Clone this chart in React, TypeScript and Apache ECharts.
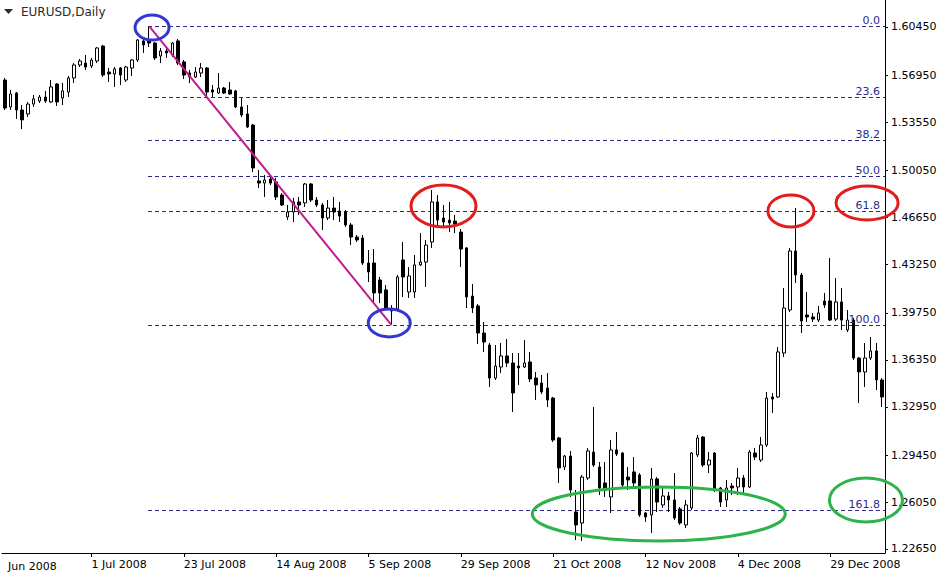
import { useEffect, useRef } from 'react';
import * as echarts from 'echarts';

const FONT = '"DejaVu Sans", Verdana, sans-serif';
const FIB_COLOR = '#2b2b86';
const TREND_COLOR = '#c41a8e';
const BLUE = '#3535d0';
const RED = '#e21d1d';
const GREEN = '#2db34a';
const GRID = { left: 2, right: 58, top: 0, bottom: 28 };

const TITLE = 'EURUSD,Daily';
const FIRST_LABEL = 'Jun 2008';
const MONTHS = ['Jan', 'Feb', 'Mar', 'Apr', 'May', 'Jun', 'Jul', 'Aug', 'Sep', 'Oct', 'Nov', 'Dec'];
const FIRST_DAY = '2008-06-10';
const BAR_COUNT = 153;
const CLOSED_DAYS = ['25 Dec 2008', '1 Jan 2009'];

function tradingDays(): string[] {
  const out: string[] = [];
  const d = new Date(FIRST_DAY + 'T00:00:00Z');
  while (out.length < BAR_COUNT) {
    const wd = d.getUTCDay();
    const label = `${d.getUTCDate()} ${MONTHS[d.getUTCMonth()]} ${d.getUTCFullYear()}`;
    if (wd !== 0 && wd !== 6 && !CLOSED_DAYS.includes(label)) out.push(label);
    d.setUTCDate(d.getUTCDate() + 1);
  }
  return out;
}
const categories = tradingDays();

const xTickLabels = ['1 Jul 2008', '23 Jul 2008', '14 Aug 2008', '5 Sep 2008', '29 Sep 2008', '21 Oct 2008', '12 Nov 2008', '4 Dec 2008', '29 Dec 2008'];
const yTickValues = [1.2265, 1.2605, 1.2945, 1.3295, 1.3635, 1.3975, 1.4325, 1.4665, 1.5005, 1.5355, 1.5695, 1.6045];
const Y_MIN = 1.2236;
const Y_MAX = 1.62405;

// [open, close, low, high]
const juneBars = [
  [1.5661, 1.5458, 1.5444, 1.5676], [1.5466, 1.5560, 1.5444, 1.5589], [1.5567, 1.5444, 1.5379, 1.5574],
  [1.5444, 1.5372, 1.5306, 1.5480], [1.5415, 1.5487, 1.5393, 1.5502], [1.5487, 1.5524, 1.5466, 1.5553],
  [1.5509, 1.5538, 1.5495, 1.5553], [1.5538, 1.5509, 1.5495, 1.5582], [1.5502, 1.5611, 1.5495, 1.5661],
  [1.5632, 1.5502, 1.5473, 1.5639], [1.5531, 1.5582, 1.5480, 1.5639], [1.5574, 1.5676, 1.5538, 1.5690],
  [1.5676, 1.5770, 1.5639, 1.5784], [1.5770, 1.5799, 1.5755, 1.5813], [1.5784, 1.5755, 1.5734, 1.5842],
];
const julyBars = [
  [1.5763, 1.5806, 1.5748, 1.5821], [1.5799, 1.5893, 1.5784, 1.5900], [1.5907, 1.5697, 1.5683, 1.5915],
  [1.5719, 1.5705, 1.5647, 1.5748], [1.5705, 1.5741, 1.5611, 1.5755], [1.5748, 1.5697, 1.5625, 1.5755],
  [1.5661, 1.5755, 1.5647, 1.5763], [1.5748, 1.5806, 1.5690, 1.5813], [1.5806, 1.5951, 1.5792, 1.5958],
  [1.5944, 1.5915, 1.5857, 1.5958], [1.5944, 1.5929, 1.5900, 1.6052], [1.5929, 1.5821, 1.5806, 1.5936],
  [1.5835, 1.5871, 1.5784, 1.5893], [1.5871, 1.5857, 1.5821, 1.5893], [1.5842, 1.5929, 1.5828, 1.5936],
  [1.5944, 1.5784, 1.5770, 1.5958], [1.5792, 1.5697, 1.5668, 1.5806], [1.5712, 1.5683, 1.5639, 1.5734],
  [1.5683, 1.5719, 1.5676, 1.5755], [1.5712, 1.5748, 1.5683, 1.5784], [1.5748, 1.5574, 1.5538, 1.5755],
  [1.5589, 1.5574, 1.5538, 1.5625], [1.5567, 1.5603, 1.5560, 1.5712],
];
const augustBars = [
  [1.5603, 1.5567, 1.5560, 1.5611], [1.5589, 1.5560, 1.5553, 1.5647], [1.5582, 1.5466, 1.5458, 1.5589],
  [1.5466, 1.5408, 1.5393, 1.5531], [1.5415, 1.5321, 1.5314, 1.5480], [1.5335, 1.5024, 1.4995, 1.5343],
  [1.4930, 1.4915, 1.4879, 1.5009], [1.4915, 1.4937, 1.4814, 1.4973], [1.4944, 1.4915, 1.4901, 1.4966],
  [1.4923, 1.4814, 1.4792, 1.4952], [1.4828, 1.4756, 1.4749, 1.4843], [1.4669, 1.4705, 1.4647, 1.4756],
  [1.4705, 1.4778, 1.4633, 1.4807], [1.4778, 1.4756, 1.4684, 1.4814], [1.4771, 1.4908, 1.4742, 1.4915],
  [1.4908, 1.4792, 1.4778, 1.4915], [1.4792, 1.4756, 1.4742, 1.4814], [1.4756, 1.4662, 1.4575, 1.4771],
  [1.4662, 1.4734, 1.4647, 1.4792], [1.4734, 1.4705, 1.4647, 1.4814], [1.4713, 1.4676, 1.4633, 1.4778],
];
const septemberBars = [
  [1.4705, 1.4611, 1.4597, 1.4720], [1.4611, 1.4524, 1.4466, 1.4626], [1.4524, 1.4503, 1.4488, 1.4539],
  [1.4517, 1.4336, 1.4322, 1.4539], [1.4336, 1.4271, 1.4198, 1.4430], [1.4336, 1.4119, 1.4046, 1.4437],
  [1.4213, 1.4119, 1.4046, 1.4235], [1.4141, 1.4010, 1.3996, 1.4177], [1.4003, 1.3988, 1.3887, 1.4032],
  [1.4003, 1.4235, 1.3988, 1.4249], [1.4358, 1.4235, 1.4090, 1.4488], [1.4126, 1.4242, 1.4083, 1.4307],
  [1.4126, 1.4322, 1.4083, 1.4394], [1.4322, 1.4343, 1.4314, 1.4553], [1.4343, 1.4466, 1.4162, 1.4503],
  [1.4488, 1.4778, 1.4445, 1.4865], [1.4778, 1.4647, 1.4589, 1.4828], [1.4662, 1.4633, 1.4589, 1.4756],
  [1.4647, 1.4626, 1.4560, 1.4778], [1.4640, 1.4618, 1.4553, 1.4684], [1.4560, 1.4437, 1.4307, 1.4582],
  [1.4445, 1.4090, 1.4010, 1.4452],
];
const octoberBars = [
  [1.4097, 1.4010, 1.3974, 1.4184], [1.4025, 1.3829, 1.3749, 1.4039], [1.3829, 1.3764, 1.3692, 1.3909],
  [1.3742, 1.3503, 1.3438, 1.3757], [1.3503, 1.3590, 1.3489, 1.3742], [1.3583, 1.3663, 1.3539, 1.3757],
  [1.3663, 1.3612, 1.3583, 1.3786], [1.3612, 1.3395, 1.3257, 1.3684], [1.3590, 1.3576, 1.3453, 1.3684],
  [1.3583, 1.3612, 1.3576, 1.3778], [1.3619, 1.3496, 1.3474, 1.3692], [1.3503, 1.3453, 1.3344, 1.3547],
  [1.3467, 1.3402, 1.3387, 1.3525], [1.3431, 1.3344, 1.3293, 1.3539], [1.3358, 1.3054, 1.3040, 1.3366],
  [1.3069, 1.2852, 1.2743, 1.3076], [1.2859, 1.2938, 1.2837, 1.2946], [1.2938, 1.2692, 1.2642, 1.2975],
  [1.2533, 1.2439, 1.2330, 1.2692], [1.2453, 1.2786, 1.2323, 1.2801], [1.2779, 1.2975, 1.2765, 1.2996],
  [1.2967, 1.2873, 1.2859, 1.3293], [1.2859, 1.2707, 1.2656, 1.2895],
];
const novemberBars = [
  [1.2743, 1.2692, 1.2642, 1.2895], [1.2642, 1.2982, 1.2526, 1.3054], [1.2982, 1.2953, 1.2938, 1.3112],
  [1.2960, 1.2728, 1.2714, 1.2967], [1.2786, 1.2765, 1.2692, 1.2859], [1.2823, 1.2743, 1.2714, 1.2931],
  [1.2801, 1.2511, 1.2497, 1.2815], [1.2526, 1.2497, 1.2461, 1.2533], [1.2511, 1.2772, 1.2381, 1.2852],
  [1.2772, 1.2605, 1.2533, 1.2786], [1.2584, 1.2649, 1.2562, 1.2707], [1.2649, 1.2620, 1.2533, 1.2678],
  [1.2620, 1.2489, 1.2475, 1.2815], [1.2555, 1.2453, 1.2439, 1.2569], [1.2439, 1.2584, 1.2417, 1.2620],
  [1.2562, 1.2960, 1.2547, 1.2967], [1.2946, 1.3069, 1.2931, 1.3091], [1.3076, 1.2873, 1.2859, 1.3083],
  [1.2873, 1.2909, 1.2815, 1.2967], [1.2960, 1.2692, 1.2678, 1.2967],
];
const decemberBars = [
  [1.2707, 1.2605, 1.2569, 1.2714], [1.2620, 1.2707, 1.2569, 1.2765], [1.2721, 1.2707, 1.2656, 1.2743],
  [1.2714, 1.2779, 1.2656, 1.2852], [1.2779, 1.2714, 1.2656, 1.2801], [1.2714, 1.2967, 1.2707, 1.2982],
  [1.2960, 1.2931, 1.2909, 1.2996], [1.2909, 1.3018, 1.2895, 1.3076], [1.3018, 1.3358, 1.3004, 1.3402],
  [1.3366, 1.3351, 1.3250, 1.3395], [1.3366, 1.3692, 1.3358, 1.3728], [1.3684, 1.4010, 1.3655, 1.4155],
  [1.3996, 1.4423, 1.3981, 1.4445], [1.4423, 1.4249, 1.4191, 1.4734], [1.4249, 1.3916, 1.3829, 1.4264],
  [1.3959, 1.3945, 1.3909, 1.4126], [1.3945, 1.3930, 1.3909, 1.3974], [1.3923, 1.3974, 1.3909, 1.4025],
  [1.4061, 1.4032, 1.4010, 1.4119], [1.4061, 1.3923, 1.3916, 1.4372], [1.3930, 1.4054, 1.3916, 1.4227],
  [1.4054, 1.3923, 1.3851, 1.4155],
];
const januaryBars = [
  [1.3851, 1.3923, 1.3836, 1.3996], [1.3923, 1.3648, 1.3634, 1.3938], [1.3648, 1.3547, 1.3322, 1.3655],
  [1.3547, 1.3648, 1.3438, 1.3757], [1.3648, 1.3699, 1.3634, 1.3800], [1.3699, 1.3489, 1.3416, 1.3757],
  [1.3489, 1.3366, 1.3293, 1.3503],
];

const bars = [...juneBars, ...julyBars, ...augustBars, ...septemberBars, ...octoberBars, ...novemberBars, ...decemberBars, ...januaryBars];

// Fibonacci retracement between the July high and the September low
const fibLevels = [0, 23.6, 38.2, 50, 61.8, 100, 161.8];
const swingHigh = { index: 25, price: 1.6052 };
const swingLow = { index: 67, price: 1.3887 };

// Hand-drawn circles (category index, price)
const circledSpots = [
  { index: 25.5, price: 1.6041, rx: 17, ry: 12.5, color: BLUE },
  { index: 66.6, price: 1.3902, rx: 21, ry: 14, color: BLUE },
  { index: 76.0, price: 1.4749, rx: 32.5, ry: 21, color: RED },
  { index: 136.2, price: 1.4713, rx: 23, ry: 16, color: RED },
  { index: 149.4, price: 1.4771, rx: 31, ry: 17, color: RED },
  { index: 113.3, price: 1.2519, rx: 126.5, ry: 27, color: GREEN },
  { index: 149.2, price: 1.2620, rx: 36.5, ry: 22, color: GREEN },
];

function buildGraphics(chart: echarts.ECharts) {
  const toPx = (i: number, p: number) =>
    chart.convertToPixel({ xAxisIndex: 0, yAxisIndex: 0 }, [categories[i], p]) as number[];
  const x0 = toPx(0, Y_MIN)[0];
  const step = toPx(1, Y_MIN)[0] - x0;
  const xAt = (idx: number) => x0 + idx * step;
  const yAt = (p: number) => toPx(0, p)[1];
  const right = chart.getWidth() - GRID.right;
  const els: any[] = [];

  const range = swingHigh.price - swingLow.price;
  const startX = Math.round(xAt(swingHigh.index)) - 1;
  fibLevels.forEach((lvl) => {
    const y = Math.round(yAt(swingHigh.price - (lvl / 100) * range)) + 0.5;
    els.push({
      type: 'line', z: 1, silent: true,
      shape: { x1: startX, y1: y, x2: right, y2: y },
      style: { stroke: FIB_COLOR, lineWidth: 1, lineDash: [4, 3] },
    });
    els.push({
      type: 'text', z: 50, silent: true,
      style: {
        text: lvl.toFixed(1), x: right - 5, y: y - 1, textAlign: 'right', verticalAlign: 'bottom',
        fill: FIB_COLOR, fontSize: 11, fontFamily: FONT,
      },
    });
  });

  els.push({
    type: 'line', z: 60, silent: true,
    shape: { x1: xAt(swingHigh.index), y1: yAt(swingHigh.price), x2: xAt(swingLow.index), y2: yAt(swingLow.price) },
    style: { stroke: TREND_COLOR, lineWidth: 2 },
  });

  circledSpots.forEach((c) => {
    els.push({
      type: 'ellipse', z: 70, silent: true,
      shape: { cx: xAt(c.index), cy: yAt(c.price), rx: c.rx, ry: c.ry },
      style: { fill: 'none', stroke: c.color, lineWidth: 3 },
    });
  });

  els.push({
    type: 'polygon', z: 80, silent: true,
    shape: { points: [[4, 9], [13, 9], [8.5, 14]] },
    style: { fill: '#2a2a2a' },
  });
  els.push({
    type: 'text', z: 80, silent: true,
    style: { text: TITLE, x: 21, y: 12, verticalAlign: 'middle', fill: '#2a2a2a', fontSize: 12, fontFamily: FONT },
  });
  els.push({
    type: 'text', z: 80, silent: true,
    style: {
      text: FIRST_LABEL, x: 8, y: chart.getHeight() - GRID.bottom + 13, verticalAlign: 'middle',
      fill: '#000', fontSize: 11, fontFamily: FONT,
    },
  });
  return els;
}

export default function App() {
  const ref = useRef<HTMLDivElement>(null);
  useEffect(() => {
    if (!ref.current) return;
    const chart = echarts.init(ref.current, null, { renderer: 'svg' });
    const showLabel = (_i: number, v: string) => xTickLabels.includes(v);
    chart.setOption({
      animation: false,
      backgroundColor: '#ffffff',
      grid: { ...GRID, containLabel: false, outerBoundsMode: 'none' },
      xAxis: {
        type: 'category',
        data: categories,
        boundaryGap: true,
        axisLine: { show: true, onZero: false, lineStyle: { color: '#000', width: 1 } },
        axisTick: { show: true, alignWithLabel: true, length: 4, interval: showLabel, lineStyle: { color: '#000' } },
        axisLabel: {
          interval: showLabel, align: 'left', color: '#000', fontSize: 11, fontFamily: FONT, margin: 6,
        },
        splitLine: { show: false },
      },
      yAxis: {
        type: 'value',
        position: 'right',
        min: Y_MIN,
        max: Y_MAX,
        scale: true,
        axisLine: { show: true, lineStyle: { color: '#000', width: 1 } },
        axisTick: { show: true, length: 3, customValues: yTickValues, lineStyle: { color: '#000' } },
        axisLabel: {
          customValues: yTickValues,
          formatter: (v: number) => v.toFixed(5),
          color: '#000', fontSize: 11, fontFamily: FONT, margin: 6,
        },
        splitLine: { show: false },
      },
      series: [
        {
          type: 'candlestick',
          data: bars,
          barWidth: 3,
          z: 2,
          itemStyle: {
            color: '#ffffff',
            color0: '#000000',
            borderColor: '#000000',
            borderColor0: '#000000',
            borderColorDoji: '#000000',
            borderWidth: 1,
          },
        },
      ],
    });
    chart.setOption({ graphic: buildGraphics(chart) });
    return () => chart.dispose();
  }, []);
  return <div ref={ref} style={{ position: 'fixed', left: 0, top: 0, width: 943, height: 581 }} />;
}
